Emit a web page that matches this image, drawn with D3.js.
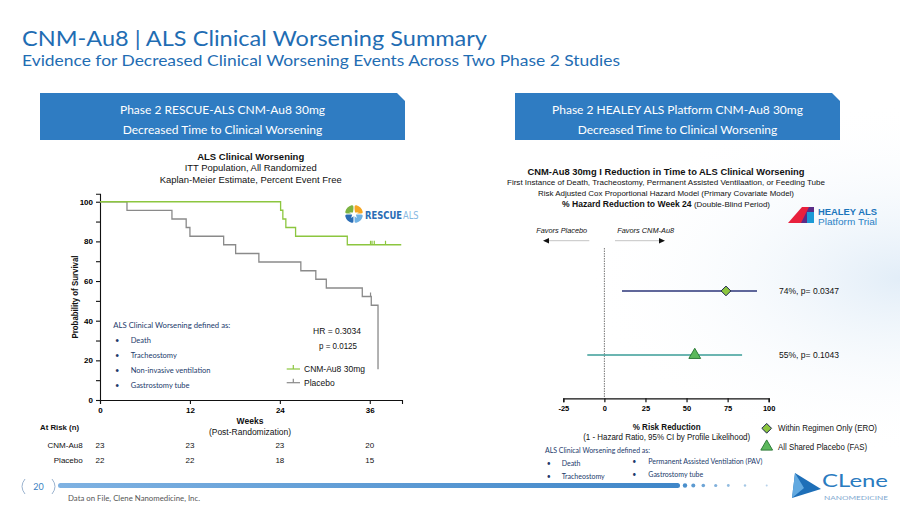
<!DOCTYPE html>
<html>
<head>
<meta charset="utf-8">
<script src="https://cdn.jsdelivr.net/npm/d3@7"></script>
<style>
body { margin: 0; background: #fff; }
svg { display: block; }
text { font-family: "Liberation Sans", Arial, sans-serif; }
</style>
</head>
<body>
<svg id="slide" width="900" height="506"></svg>
<script>
// Kaplan-Meier steps, RESCUE-ALS (weeks, % event free)
var cnmWeeks = [0, 24.1, 24.4, 24.8, 26.1, 33.0, 40.2];
var cnmSurv = [100, 95.7, 91.3, 87.0, 82.6, 78.3, 78.3];
var cnmCensor = [36.1, 36.3, 36.6, 38.1];
var placeboWeeks = [0, 3.6, 9.6, 11.5, 12.0, 16.5, 18.1, 21.2, 26.8, 28.8, 30.2, 35.0, 36.2, 37.1];
var placeboSurv = [100, 95.6, 91.3, 87.0, 82.6, 78.3, 73.9, 69.6, 65.2, 60.9, 56.5, 52.2, 47.8, 15.5];
var placeboCensor = [36.1];
var kmWeekTicks = [0, 12, 24, 36];
var kmSurvTicks = [0, 20, 40, 60, 80, 100];
var kmMinorTicks = [10, 30, 50, 70, 90];
var atRiskGroups = ["CNM-Au8", "Placebo"];
var atRiskCnm = [23, 23, 23, 20];
var atRiskPlacebo = [22, 22, 18, 15];
var worseningDefs = ["Death", "Tracheostomy", "Non-invasive ventilation", "Gastrostomy tube"];

// HEALEY forest plot (% risk reduction, 95% CI)
var forestRows = ["Within Regimen Only (ERO)", "All Shared Placebo (FAS)"];
var forestEst = [74, 55];
var forestLow = [10.7, -10.4];
var forestHigh = [92.9, 83.8];
var forestP = ["0.0347", "0.1043"];
var forestTicks = [-25, 0, 25, 50, 75, 100];
var healeyDefsA = ["Death", "Tracheostomy"];
var healeyDefsB = ["Permanent Assisted Ventilation (PAV)", "Gastrostomy tube"];

var svg = d3.select("#slide");
var SLIDE_FONT = "Lato, 'Open Sans', sans-serif";
var navy = "#223a6b", green = "#8cc63f", grey = "#8a8a8a", blue = "#1f6db3";

function txt(g, x, y, s, o) {
	o = o || {};
	var t = g.append("text").attr("x", x).attr("y", y).text(s)
		.attr("font-size", o.size || 9)
		.attr("fill", o.fill || "#111")
		.attr("text-anchor", o.anchor || "start");
	if (o.bold) t.attr("font-weight", "bold");
	if (o.italic) t.attr("font-style", "italic");
	if (o.font) t.style("font-family", o.font);
	if (o.w) t.attr("textLength", o.w).attr("lengthAdjust", "spacingAndGlyphs");
	return t;
}

// squeeze a text horizontally to a given width with a transform
function squeeze(t, x, w) {
	var nat = t.node().getComputedTextLength();
	t.attr("x", 0).attr("transform", "translate(" + x + ",0) scale(" + (w / nat) + ",1)");
}

// faint background tint
var defs = svg.append("defs");
var bg = defs.append("radialGradient").attr("id", "bgTint").attr("cx", "100%").attr("cy", "55%").attr("r", "35%");
bg.append("stop").attr("offset", "0%").attr("stop-color", "#dbe9f6").attr("stop-opacity", 0.8);
bg.append("stop").attr("offset", "100%").attr("stop-color", "#fff").attr("stop-opacity", 0);
svg.append("rect").attr("width", 900).attr("height", 506).attr("fill", "url(#bgTint)");

// slide header
txt(svg, 22, 45.5, "CNM-Au8 | ALS Clinical Worsening Summary", {size: 22, fill: blue, font: SLIDE_FONT, w: 465});
txt(svg, 22, 65.5, "Evidence for Decreased Clinical Worsening Events Across Two Phase 2 Studies", {size: 15, fill: blue, font: SLIDE_FONT, w: 598});

function headerBox(x0, x1, line1, line2) {
	var c = 8;
	svg.append("path")
		.attr("d", "M" + x0 + ",93 H" + (x1 - c) + " L" + x1 + "," + (93 + c) + " V140 H" + x0 + " Z")
		.attr("fill", "#2f7cc2");
	var cx = (x0 + x1) / 2;
	txt(svg, cx, 114, line1, {size: 12, fill: "#fff", anchor: "middle", font: SLIDE_FONT});
	txt(svg, cx, 134, line2, {size: 12, fill: "#fff", anchor: "middle", font: SLIDE_FONT});
}
headerBox(40, 405, "Phase 2 RESCUE-ALS CNM-Au8 30mg", "Decreased Time to Clinical Worsening");
headerBox(515, 840, "Phase 2 HEALEY ALS Platform CNM-Au8 30mg", "Decreased Time to Clinical Worsening");

// ---------- left: Kaplan-Meier ----------
var km = svg.append("g");
txt(km, 250.7, 159.5, "ALS Clinical Worsening", {size: 9.5, bold: true, anchor: "middle", w: 107});
txt(km, 250.7, 171, "ITT Population, All Randomized", {size: 9.5, anchor: "middle", w: 132});
txt(km, 250.7, 182.5, "Kaplan-Meier Estimate, Percent Event Free", {size: 9.5, anchor: "middle", w: 182});

var xKm = d3.scaleLinear().domain([0, 40.3]).range([100, 402]);
var yKm = d3.scaleLinear().domain([0, 104]).range([400, 193.8]);

km.append("g").attr("transform", "translate(100,0)")
	.call(d3.axisLeft(yKm).tickValues(kmSurvTicks).tickSize(4).tickPadding(3));
km.append("g").attr("transform", "translate(100,0)")
	.call(d3.axisLeft(yKm).tickValues(kmMinorTicks).tickSize(4).tickFormat(""))
	.select(".domain").remove();
km.append("g").attr("transform", "translate(0,400)")
	.call(d3.axisBottom(xKm).tickValues(kmWeekTicks).tickSize(4).tickPadding(3));
km.selectAll(".tick text").attr("font-size", 8).attr("font-weight", "bold").attr("font-family", "Liberation Sans, Arial");
km.selectAll(".domain, .tick line").attr("stroke", "#111").attr("stroke-width", 1.1);

txt(km, 0, 0, "Probability of Survival", {size: 8.5, bold: true, anchor: "middle", w: 83})
	.attr("transform", "translate(78,297) rotate(-90)");
txt(km, 250, 423.5, "Weeks", {size: 8.5, bold: true, anchor: "middle"});
txt(km, 250, 434.5, "(Post-Randomization)", {size: 8.5, anchor: "middle"});

var stepLine = d3.line().curve(d3.curveStepAfter)
	.x(function(d){ return xKm(d[0]); })
	.y(function(d){ return yKm(d[1]); });

km.append("path").datum(d3.zip(placeboWeeks, placeboSurv))
	.attr("d", stepLine).attr("fill", "none").attr("stroke", grey).attr("stroke-width", 1.3);
km.append("path").datum(d3.zip(cnmWeeks, cnmSurv))
	.attr("d", stepLine).attr("fill", "none").attr("stroke", green).attr("stroke-width", 1.3);

function survAt(weeks, surv, t) {
	var i = d3.bisectRight(weeks, t) - 1;
	return surv[Math.max(0, i)];
}
function censorTicks(list, weeks, surv, color) {
	km.append("g").selectAll("line").data(list).enter().append("line")
		.attr("x1", function(d){ return xKm(d); }).attr("x2", function(d){ return xKm(d); })
		.attr("y1", function(d){ return yKm(survAt(weeks, surv, d)); })
		.attr("y2", function(d){ return yKm(survAt(weeks, surv, d)) - 4; })
		.attr("stroke", color).attr("stroke-width", 1.2);
}
censorTicks(cnmCensor, cnmWeeks, cnmSurv, green);
censorTicks(placeboCensor, placeboWeeks, placeboSurv, grey);

// legend + stats
[[green, "CNM-Au8 30mg", 369], [grey, "Placebo", 382.7]].forEach(function(l) {
	km.append("line").attr("x1", 286.7).attr("x2", 300).attr("y1", l[2]).attr("y2", l[2]).attr("stroke", l[0]).attr("stroke-width", 1.2);
	km.append("line").attr("x1", 293.3).attr("x2", 293.3).attr("y1", l[2]).attr("y2", l[2] - 4).attr("stroke", l[0]).attr("stroke-width", 1.2);
	txt(km, 304, l[2] + 3, l[1], {size: 8.5});
});
txt(km, 313, 334, "HR =  0.3034", {size: 8.5, w: 48});
txt(km, 319, 349, "p = 0.0125", {size: 8.5, w: 38});

// definitions
txt(km, 113.3, 327.5, "ALS Clinical Worsening defined as:", {size: 7.5, fill: navy, font: SLIDE_FONT, w: 117});
worseningDefs.forEach(function(d, i) {
	txt(km, 115, 342.5 + i * 15, "\u2022", {size: 7.5, fill: navy, font: SLIDE_FONT});
	txt(km, 130.7, 342.5 + i * 15, d, {size: 7.5, fill: navy, font: SLIDE_FONT});
});

// at risk table
txt(km, 40, 430, "At Risk (n)", {size: 8, bold: true, w: 39});
[atRiskCnm, atRiskPlacebo].forEach(function(row, r) {
	var y = 448 + r * 15;
	txt(km, 82.7, y, atRiskGroups[r], {size: 8, anchor: "end"});
	row.forEach(function(v, i) {
		txt(km, xKm(kmWeekTicks[i]), y, v, {size: 8, anchor: "middle"});
	});
});

// RESCUE ALS logo
var logo = svg.append("g").attr("transform", "translate(354,214)");
var petals = [["#f5a623", 0], ["#6fb1e3", 90], ["#2a6db5", 180], ["#7cb342", 270]];
var petalArc = d3.arc().innerRadius(1.5).outerRadius(9).padAngle(0.12).cornerRadius(1.5);
petals.forEach(function(p) {
	logo.append("path").attr("d", petalArc({startAngle: p[1] * Math.PI / 180, endAngle: (p[1] + 90) * Math.PI / 180})).attr("fill", p[0]);
});
logo.append("path").attr("d", d3.symbol().type(d3.symbolStar).size(28)()).attr("fill", "#fff");
var LOGO_FONT = "'DejaVu Sans Condensed', 'Liberation Sans Narrow', sans-serif";
squeeze(txt(svg, 0, 219, "RESCUE", {size: 10.5, bold: true, fill: "#2a6db5", font: LOGO_FONT}), 365, 37);
squeeze(txt(svg, 0, 219, "ALS", {size: 10.5, fill: "#86b7e2", font: LOGO_FONT}), 403, 15.5);

// ---------- right: forest plot ----------
var fp = svg.append("g");
txt(fp, 666, 174.5, "CNM-Au8 30mg I Reduction in Time to ALS Clinical Worsening", {size: 9.3, bold: true, anchor: "middle", w: 277});
txt(fp, 666, 185, "First Instance of Death, Tracheostomy, Permanent Assisted Ventilaation, or Feeding Tube", {size: 8, anchor: "middle", w: 318});
txt(fp, 666, 196, "Risk Adjusted Cox Proportional Hazard Model (Primary Covariate Model)", {size: 8, anchor: "middle", w: 256});
var hz = txt(fp, 666, 206.5, "% Hazard Reduction to Week 24 ", {size: 8.6, bold: true, anchor: "middle"});
hz.append("tspan").attr("font-weight", "normal").attr("font-size", 8).text("(Double-Blind Period)");
hz.attr("textLength", 208).attr("lengthAdjust", "spacingAndGlyphs");

var xF = d3.scaleLinear().domain([-25, 100]).range([563.3, 768.7]);
var yF = d3.scalePoint().domain(forestRows).range([248, 398]).padding(0.67);

fp.append("line").attr("x1", xF(0)).attr("x2", xF(0)).attr("y1", 248).attr("y2", 398)
	.attr("stroke", "#555").attr("stroke-width", 0.8).attr("stroke-dasharray", "1.5,1");

fp.append("g").attr("transform", "translate(0,398.3)")
	.call(d3.axisBottom(xF).tickValues(forestTicks).tickSize(4).tickPadding(3)
		.tickFormat(function(d){ return String(d); }));
fp.selectAll(".tick text").attr("font-size", 7.5).attr("font-weight", "bold").attr("font-family", "Liberation Sans, Arial");
fp.selectAll(".domain, .tick line").attr("stroke", "#111").attr("stroke-width", 1.2);

var ciColors = ["#2b3479", "#3a9d97"];
var markFill = ["#8cc63f", "#5cb85c"];
var markStroke = ["#1d2450", "#2f7d3a"];
var symbols = [d3.symbol().type(d3.symbolDiamond2).size(60), d3.symbol().type(d3.symbolTriangle).size(60)];
forestRows.forEach(function(r, i) {
	var y = yF(r);
	fp.append("line").attr("x1", xF(forestLow[i])).attr("x2", xF(forestHigh[i])).attr("y1", y).attr("y2", y)
		.attr("stroke", ciColors[i]).attr("stroke-width", 1.4);
	fp.append("path").attr("d", symbols[i]()).attr("transform", "translate(" + xF(forestEst[i]) + "," + y + ")")
		.attr("fill", markFill[i]).attr("stroke", markStroke[i]).attr("stroke-width", 1);
	txt(fp, 779, y + 3, forestEst[i] + "%, p= " + forestP[i], {size: 8.5, w: 60});
	// legend
	var ly = 428.3 + i * 18.4;
	fp.append("path").attr("d", symbols[i]()).attr("transform", "translate(766.7," + ly + ")")
		.attr("fill", markFill[i]).attr("stroke", markStroke[i]).attr("stroke-width", 1);
	txt(fp, 778, ly + 3, r, {size: 8.5, w: i === 0 ? 99 : 89});
});

// favors arrows
txt(fp, 561.7, 232.5, "Favors Placebo", {size: 7.5, italic: true, anchor: "middle", w: 51});
txt(fp, 645.7, 232.5, "Favors CNM-Au8", {size: 7.5, italic: true, anchor: "middle", w: 57});
fp.append("line").attr("x1", 546).attr("x2", 589.3).attr("y1", 240.7).attr("y2", 240.7).attr("stroke", "#c4c4c4").attr("stroke-width", 1);
fp.append("path").attr("d", "M543,240.7 l6,-2.7 v5.4 Z").attr("fill", "#111");
fp.append("line").attr("x1", 615).attr("x2", 662).attr("y1", 240.7).attr("y2", 240.7).attr("stroke", "#c4c4c4").attr("stroke-width", 1);
fp.append("path").attr("d", "M665,240.7 l-6,-2.7 v5.4 Z").attr("fill", "#111");

txt(fp, 666.7, 429.5, "% Risk Reduction", {size: 8.5, bold: true, anchor: "middle", w: 68});
txt(fp, 666.7, 440, "(1 - Hazard Ratio, 95% CI by Profile Likelihood)", {size: 8.5, anchor: "middle", w: 167});

txt(fp, 545, 452.5, "ALS Clinical Worsening defined as:", {size: 7, fill: navy, font: SLIDE_FONT, w: 105});
healeyDefsA.forEach(function(d, i) {
	txt(fp, 546.7, 466 + i * 13.4, "\u2022", {size: 7, fill: navy, font: SLIDE_FONT});
	txt(fp, 561.7, 466 + i * 13.4, d, {size: 7, fill: navy, font: SLIDE_FONT});
});
healeyDefsB.forEach(function(d, i) {
	txt(fp, 632.3, 464 + i * 13.4, "\u2022", {size: 7, fill: navy, font: SLIDE_FONT});
	txt(fp, 648.3, 464 + i * 13.4, d, {size: 7, fill: navy, font: SLIDE_FONT, w: i === 0 ? 114 : null});
});

// HEALEY logo
var hl = svg.append("g");
hl.append("path").attr("d", "M788,223 L802,207 L809,207 L809,223 Z").attr("fill", "#e8203d");
hl.append("path").attr("d", "M801,223 L809,207 L814,207 L814,223 Z").attr("fill", "#5a2b86");
hl.append("path").attr("d", "M807,212 L814,212 L814,223 L807,223 Z").attr("fill", "#1b9ad6");
txt(hl, 818, 214.5, "HEALEY ALS", {size: 9.5, bold: true, fill: "#1b75bc", w: 59});
txt(hl, 818, 225, "Platform Trial", {size: 9.5, fill: "#2a82c6", w: 59});

// ---------- footer ----------
var grad = defs.append("linearGradient").attr("id", "barGrad");
grad.append("stop").attr("offset", "0%").attr("stop-color", "#7fb2e2");
grad.append("stop").attr("offset", "100%").attr("stop-color", "#3f86c8");
svg.append("rect").attr("x", 58).attr("y", 483).attr("width", 622).attr("height", 5).attr("rx", 2.5).attr("fill", "url(#barGrad)");
[[685, 2.2], [693.3, 2], [703.3, 1.8], [715.7, 1.6], [728.3, 1.4], [745, 1.2], [766.7, 1]].forEach(function(d, i) {
	svg.append("circle").attr("cx", d[0]).attr("cy", 485.5).attr("r", d[1]).attr("fill", "#4a8fcc").attr("opacity", 1 - i * 0.1);
});
svg.append("path").attr("d", "M25,479 Q19,486.5 25,494").attr("fill", "none").attr("stroke", "#9bb3cf").attr("stroke-width", 1);
svg.append("path").attr("d", "M52,479 Q58,486.5 52,494").attr("fill", "none").attr("stroke", "#9bb3cf").attr("stroke-width", 1);
txt(svg, 38.5, 490, "20", {size: 9, fill: "#3a7fc2", anchor: "middle", font: SLIDE_FONT});
txt(svg, 68, 501, "Data on File, Clene Nanomedicine, Inc.", {size: 7.5, fill: "#555", font: SLIDE_FONT, w: 132});

// Clene logo
var cl = svg.append("g");
cl.append("path").attr("d", "M795,473 L821,489 L792,498 Z").attr("fill", "#1e6fb8");
cl.append("path").attr("d", "M795,473 L804,488 L792,498 Z").attr("fill", "#62a9e0");
txt(cl, 822, 487, "CLene", {size: 18, fill: "#2a7bc0", font: SLIDE_FONT, w: 66});
txt(cl, 824, 499.5, "NANOMEDICINE", {size: 6.5, fill: "#7fa9d0", font: SLIDE_FONT, w: 64});
</script>
</body>
</html>
